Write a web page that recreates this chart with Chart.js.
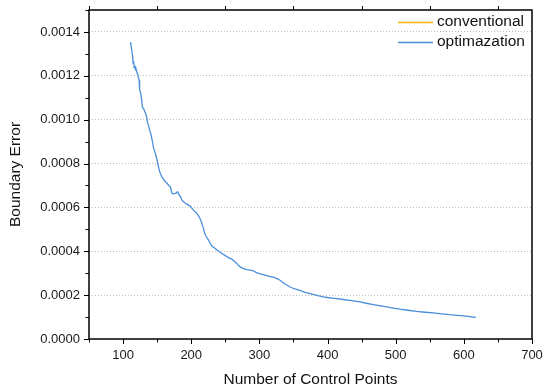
<!DOCTYPE html>
<html>
<head>
<meta charset="utf-8">
<script src="https://cdn.jsdelivr.net/npm/chart.js@4.4.1/dist/chart.umd.min.js"></script>
<style>
  body { margin: 0; background: #fff; }
  #chart { display: block; }
</style>
</head>
<body>
<canvas id="chart" width="550" height="392"></canvas>
<script>
// tick positions (labels only on the major ones)
const xTicks = [50, 100, 150, 200, 250, 300, 350, 400, 450, 500, 550, 600, 650, 700];
const yTicks = [0, 0.0001, 0.0002, 0.0003, 0.0004, 0.0005, 0.0006, 0.0007, 0.0008,
                0.0009, 0.0010, 0.0011, 0.0012, 0.0013, 0.0014, 0.0015];

// conventional: only shown in the legend, no points visible
const conventionalX = [];
const conventionalY = [];

// optimazation curve
const optimX = [110.8, 111.5, 112.5, 113.7, 114.2, 114.7, 115.5, 116.3, 117.6, 118.4,
  119.2, 120.6, 121.5, 123.5, 124.0, 124.4, 125.8, 127.3, 128.0, 129.4,
  130.3, 131.5, 133.2, 134.5, 136.1, 138.0, 139.5, 141.1, 142.8, 144.9,
  146.5, 148.0, 149.9, 151.5, 153.0, 154.7, 157.0, 159.0, 162.0, 164.5,
  167.0, 169.3, 170.5, 171.8, 174.0, 176.6, 178.0, 179.6, 180.5, 181.5,
  184.0, 186.5, 190.0, 194.0, 198.6, 202.0, 205.0, 208.4, 211.0, 213.5,
  215.7, 218.0, 220.0, 222.5, 225.4, 228.0, 231.0, 235.2, 240.0, 245.0,
  250.0, 255.0, 259.7, 263.0, 267.0, 268.5, 271.8, 276.0, 281.0, 286.0,
  291.3, 295.0, 298.6, 304.0, 310.0, 315.0, 320.6, 325.0, 330.4, 337.0,
  345.0, 352.0, 359.7, 366.0, 374.3, 383.0, 393.8, 402.0, 410.0, 423.1,
  435.0, 447.5, 457.0, 467.0, 476.0, 486.6, 496.0, 506.1, 518.0, 530.5,
  543.0, 554.8, 567.0, 579.2, 591.0, 603.7, 612.0, 617.3];
const optimY = [0.001352, 0.001340, 0.001322, 0.001295, 0.001280, 0.001258, 0.001266, 0.001238, 0.001242, 0.001228,
  0.001230, 0.001212, 0.001205, 0.001181, 0.001155, 0.001139, 0.001120, 0.001090, 0.001062, 0.001052,
  0.001050, 0.001038, 0.001029, 0.001012, 0.000984, 0.000966, 0.000948, 0.000930, 0.000905, 0.000869,
  0.000855, 0.000840, 0.000816, 0.000792, 0.000770, 0.000755, 0.000738, 0.000730, 0.000717, 0.000710,
  0.000700, 0.000694, 0.000680, 0.000664, 0.000662, 0.000664, 0.000666, 0.000671, 0.000666, 0.000660,
  0.000650, 0.000633, 0.000622, 0.000614, 0.000606, 0.000592, 0.000582, 0.000573, 0.000560, 0.000545,
  0.000527, 0.000502, 0.000480, 0.000465, 0.000451, 0.000435, 0.000422, 0.000413, 0.000400, 0.000390,
  0.000380, 0.000370, 0.000364, 0.000355, 0.000344, 0.000338, 0.000329, 0.000322, 0.000316, 0.000314,
  0.000311, 0.000304, 0.000299, 0.000295, 0.000290, 0.000285, 0.000282, 0.000276, 0.000268, 0.000252,
  0.000237, 0.000228, 0.000222, 0.000214, 0.000207, 0.000200, 0.000192, 0.000188, 0.000185, 0.000180,
  0.000175, 0.000169, 0.000163, 0.000157, 0.000152, 0.000146, 0.000141, 0.000136, 0.000131, 0.000126,
  0.000122, 0.000119, 0.000115, 0.000111, 0.000108, 0.000104, 0.000101, 0.000098];

const FONT = "'Liberation Sans', Arial, sans-serif";
const toPoints = (xs, ys) => xs.map((x, i) => ({ x: x, y: ys[i] }));
const isMajorY = v => Math.round(v * 10000) % 2 === 0;

// frame, tick marks and legend drawn on top, Origin style
const framePlugin = {
    id: 'frame',
    afterDraw(chart) {
        const { ctx, chartArea: a, scales } = chart;
        const x = scales.x, y = scales.y;
        ctx.save();
        ctx.strokeStyle = '#000';
        ctx.lineWidth = 1.5;
        ctx.strokeRect(a.left, a.top, a.right - a.left, a.bottom - a.top);

        ctx.lineWidth = 1;
        ctx.beginPath();
        x.ticks.forEach(t => {
            const px = Math.round(x.getPixelForValue(t.value)) + 0.5;
            const major = t.value % 100 === 0;
            ctx.moveTo(px, a.bottom);
            ctx.lineTo(px, a.bottom + (major ? 5 : 3.5));
            if (!major) {
                ctx.moveTo(px, a.top);
                ctx.lineTo(px, a.top - 4);
            }
        });
        y.ticks.forEach(t => {
            const py = Math.round(y.getPixelForValue(t.value)) + 0.5;
            ctx.moveTo(a.left, py);
            ctx.lineTo(a.left - (isMajorY(t.value) ? 5 : 3.5), py);
        });
        ctx.stroke();

        // legend (top right, inside plot)
        ctx.font = '15.5px ' + FONT;
        ctx.textBaseline = 'middle';
        ctx.fillStyle = '#111';
        chart.data.datasets.forEach((ds, i) => {
            const ly = 22 + i * 20;
            ctx.strokeStyle = ds.borderColor;
            ctx.lineWidth = 1.3;
            ctx.beginPath();
            ctx.moveTo(398, ly + 0.5);
            ctx.lineTo(433, ly + 0.5);
            ctx.stroke();
            ctx.fillText(ds.label, 437, ly);
        });
        ctx.restore();
    }
};

new Chart(document.getElementById('chart'), {
    type: 'line',
    data: {
        datasets: [
            {
                label: 'conventional',
                data: toPoints(conventionalX, conventionalY),
                borderColor: '#f5b400',
                borderWidth: 1.3,
                pointRadius: 0
            },
            {
                label: 'optimazation',
                data: toPoints(optimX, optimY),
                borderColor: '#4a8fdb',
                borderWidth: 1.3,
                pointRadius: 0,
                tension: 0
            }
        ]
    },
    options: {
        responsive: false,
        animation: false,
        layout: { padding: { top: 10, right: 18, left: 0, bottom: 0 } },
        plugins: {
            legend: { display: false },
            tooltip: { enabled: false }
        },
        scales: {
            x: {
                type: 'linear',
                min: 50,
                max: 700,
                afterBuildTicks: s => { s.ticks = xTicks.map(v => ({ value: v })); },
                afterFit: s => { s.height = 53; s.paddingLeft = 0; s.paddingRight = 0; },
                grid: { display: false, drawTicks: false },
                border: { display: false },
                ticks: {
                    autoSkip: false,
                    maxRotation: 0,
                    padding: 9,
                    color: '#1a1a1a',
                    font: { family: FONT, size: 13 },
                    callback: v => (v % 100 === 0 ? String(v) : '')
                },
                title: {
                    display: true,
                    text: 'Number of Control Points',
                    color: '#111',
                    font: { family: FONT, size: 15.5 },
                    padding: { top: 0, bottom: 3 }
                }
            },
            y: {
                min: 0,
                max: 0.0015,
                afterBuildTicks: s => { s.ticks = yTicks.map(v => ({ value: v })); },
                afterFit: s => { s.width = 89; s.paddingTop = 0; s.paddingBottom = 0; },
                border: { display: false, dash: [1, 2] },
                grid: {
                    drawTicks: false,
                    lineWidth: 1,
                    color: c => {
                        const v = c.tick ? c.tick.value : 0;
                        return (isMajorY(v) && v > 0 && v < 0.00145) ? '#bdbdbd' : 'rgba(0,0,0,0)';
                    }
                },
                ticks: {
                    autoSkip: false,
                    padding: 9,
                    color: '#1a1a1a',
                    font: { family: FONT, size: 13 },
                    callback: v => (isMajorY(v) ? v.toFixed(4) : '')
                },
                title: {
                    display: true,
                    text: 'Boundary Error',
                    color: '#111',
                    font: { family: FONT, size: 15.5 },
                    padding: { top: 6, bottom: 0 }
                }
            }
        }
    },
    plugins: [framePlugin]
});
</script>
</body>
</html>
